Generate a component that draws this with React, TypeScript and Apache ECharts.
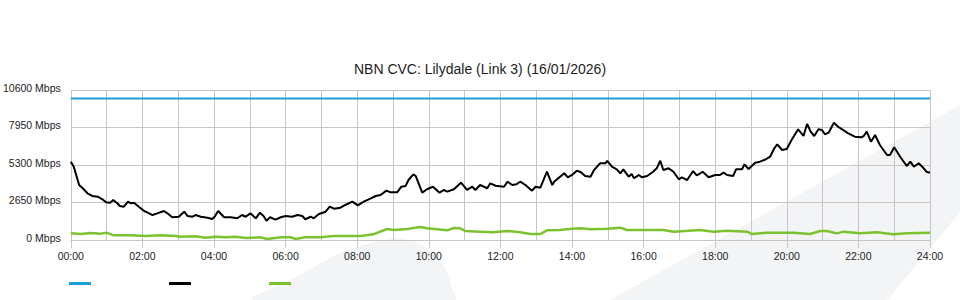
import React, { useEffect, useRef } from "react";
import * as echarts from "echarts";

const titleText = "NBN CVC: Lilydale (Link 3) (16/01/2026)";
const yTicks = [0, 2650, 5300, 7950, 10600];
const xTickHours = [0, 2, 4, 6, 8, 10, 12, 14, 16, 18, 20, 22, 24];

const capacityTimes = ["00:00", "24:00"];
const capacityMbps = [10000, 10000];

const trafficTimes = [
  "00:00","00:05","00:14","00:20","00:28","00:36","00:45","00:53","00:59","01:06","01:11","01:18","01:22","01:29","01:36","01:40","01:46","01:54",
  "02:03","02:08","02:17","02:25","02:36","02:42","02:50","03:01","03:10","03:16","03:24","03:29","03:38","03:49","03:57","04:01","04:07","04:17",
  "04:28","04:39","04:47","04:53","05:01","05:10","05:17","05:23","05:28","05:34","05:43","05:52","06:00","06:11","06:20","06:28","06:33","06:42",
  "06:47","06:56","07:07","07:14","07:21","07:32","07:40","07:52","08:01","08:11","08:22","08:31","08:39","08:49","08:56","09:07","09:14","09:21",
  "09:26","09:34","09:38","09:49","09:57","10:07","10:18","10:25","10:31","10:42","10:54","11:04","11:13","11:18","11:26","11:38","11:43","11:52",
  "12:06","12:12","12:20","12:27","12:33","12:42","12:53","12:59","13:07","13:18","13:27","13:30","13:40","13:47","13:53","14:00","14:08","14:15",
  "14:22","14:31","14:37","14:47","14:56","14:59","15:07","15:15","15:21","15:26","15:35","15:40","15:44","15:52","15:57","16:06","16:16","16:22",
  "16:28","16:33","16:42","16:50","16:59","17:04","17:13","17:23","17:29","17:35","17:39","17:49","18:00","18:08","18:14","18:20","18:30","18:35",
  "18:45","18:49","18:56","19:07","19:15","19:25","19:32","19:39","19:44","19:52","20:00","20:08","20:19","20:28","20:34","20:40","20:46","20:53",
  "20:59","21:04","21:10","21:19","21:26","21:36","21:43","21:54","22:05","22:09","22:14","22:21","22:28","22:36","22:48","22:53","23:00","23:10",
  "23:21","23:27","23:33","23:41","23:47","23:54","24:00"
];
const trafficMbps = [
  5535,5180,3887,3655,3300,3110,3060,2876,2665,2635,2827,2595,2405,2355,2707,2595,2635,2355,
  2050,1955,1765,1885,2050,1885,1605,1645,2000,1695,1645,1765,1645,1575,1485,1645,2050,1605,
  1605,1535,1765,1645,1885,1535,1930,1695,1365,1605,1440,1605,1695,1645,1765,1695,1465,1645,
  1535,1835,2000,2355,2215,2285,2475,2707,2452,2707,2920,3110,3180,3485,3370,3370,3765,3815,
  4240,4645,4525,3345,3585,3765,3345,3535,3415,3585,4050,3535,3765,3535,3885,3655,4005,3835,
  3765,4120,3885,3935,4120,3885,3485,3765,3695,4825,3885,4120,4475,4715,4430,4595,4900,4785,
  4525,4475,4945,5420,5420,5585,5180,4995,4715,4995,4475,4665,4360,4595,4430,4525,4825,5065,
  5605,4945,5065,4825,4290,4430,4240,4875,4560,4715,4825,4430,4595,4595,4755,4595,4525,4995,
  4995,5350,5015,5465,5535,5705,5885,6480,6765,6360,6430,7065,7825,7350,8200,7655,7350,7825,
  7775,7470,7585,8290,8005,7725,7540,7300,7255,7350,7655,6945,7420,6715,6005,6005,6550,5885,
  5230,5535,5180,5420,5180,4825,4755
];

const otherTimes = [
  "00:00","00:17","00:33","00:50","01:00","01:12","01:40","02:06","02:31","02:56","03:04","03:29","03:46","04:03","04:20","04:36","04:53","05:18",
  "05:29","05:52","06:08","06:17","06:33","06:59","07:20","08:06","08:27","08:50","09:01","09:24","09:46","09:57","10:14","10:31","10:42","10:53",
  "11:01","11:26","11:48","12:11","12:33","12:50","13:07","13:18","13:40","13:51","14:14","14:31","14:59","15:21","15:32","15:59","16:33","16:50",
  "17:35","17:57","18:20","18:54","19:01","19:27","20:11","20:39","20:56","21:07","21:24","21:35","22:03","22:31","22:58","23:21","24:00"
];
const otherMbps = [
  470,424,495,450,518,330,330,283,330,283,236,260,165,236,188,236,141,188,
  70,190,190,70,190,190,283,283,400,777,707,777,919,825,754,683,848,825,
  636,590,542,636,542,424,424,683,707,754,825,754,801,872,707,707,707,590,
  707,590,660,590,424,518,518,424,636,636,470,590,470,542,400,470,518
];

function toHours(t: string): number {
  const [h, m] = t.split(":").map(Number);
  return h + m / 60;
}
function pairs(times: string[], vals: number[]) {
  return times.map((t, i) => [toHours(t), vals[i]]);
}
function hh(v: number) {
  return (v < 10 ? "0" : "") + v + ":00";
}

export default function App() {
  const ref = useRef<HTMLDivElement>(null);
  useEffect(() => {
    if (!ref.current) return;
    const chart = echarts.init(ref.current, null, { renderer: "svg" });
    const gridColor = "#c6c6c6";
    const legendCommon = {
      top: 282,
      padding: 0,
      icon: "rect",
      itemWidth: 22,
      itemHeight: 3,
      formatter: () => "",
      textStyle: { fontSize: 1, lineHeight: 1 },
      selectedMode: false,
    };
    chart.setOption({
      animation: false,
      backgroundColor: "#ffffff",
      textStyle: { fontFamily: "Liberation Sans, Arial, sans-serif" },
      title: {
        text: titleText,
        left: "center",
        top: 62,
        padding: 0,
        textStyle: { fontSize: 14, fontWeight: "normal", color: "#222" },
      },
      legend: [
        { ...legendCommon, left: 69, data: ["Capacity"] },
        { ...legendCommon, left: 169, data: ["Traffic"] },
        { ...legendCommon, left: 269, data: ["Other"] },
      ],
      graphic: [
        {
          type: "polygon",
          z: -10,
          silent: true,
          shape: { points: [[610, 300], [960, 105], [960, 212], [887, 300]] },
          style: { fill: "#f3f4f6" },
        },
        {
          type: "polygon",
          z: -10,
          silent: true,
          shape: {
            smooth: 0.3,
            points: [[253, 300], [300, 275], [343, 252], [393, 238], [410, 240], [432, 252], [445, 268], [452, 288], [455, 300]],
          },
          style: { fill: "#f3f4f6" },
        },
      ],
      grid: { left: 70, right: 30, top: 90, bottom: 60, containLabel: false },
      xAxis: {
        type: "value",
        min: 0,
        max: 24,
        interval: 2,
        axisLine: { show: true, lineStyle: { color: gridColor } },
        axisTick: { show: true, length: 8, lineStyle: { color: gridColor } },
        axisLabel: {
          margin: 10,
          fontSize: 10.5,
          color: "#222",
          formatter: (v: number) => (xTickHours.includes(v) ? hh(v) : ""),
        },
        splitLine: { show: true, lineStyle: { color: gridColor, width: 1 } },
        minorTick: { show: false, splitNumber: 2 },
        minorSplitLine: { show: true, lineStyle: { color: gridColor, width: 1 } },
      },
      yAxis: {
        type: "value",
        min: 0,
        max: 10600,
        interval: 2650,
        axisLine: { show: false },
        axisTick: { show: false },
        axisLabel: {
          margin: 10,
          fontSize: 10.5,
          color: "#222",
          verticalAlign: "bottom",
          lineHeight: 5,
          formatter: (v: number) => (yTicks.includes(v) ? v + " Mbps" : ""),
        },
        splitLine: { show: true, lineStyle: { color: gridColor, width: 1 } },
      },
      series: [
        {
          name: "Capacity",
          type: "line",
          data: pairs(capacityTimes, capacityMbps),
          symbol: "none",
          lineStyle: { color: "#1fa0dd", width: 2 },
          itemStyle: { color: "#1fa0dd" },
          z: 3,
        },
        {
          name: "Traffic",
          type: "line",
          data: pairs(trafficTimes, trafficMbps),
          symbol: "none",
          lineStyle: { color: "#000000", width: 2 },
          itemStyle: { color: "#000000" },
          z: 4,
        },
        {
          name: "Other",
          type: "line",
          data: pairs(otherTimes, otherMbps),
          symbol: "none",
          lineStyle: { color: "#7cc22e", width: 2.5 },
          itemStyle: { color: "#7cc22e" },
          z: 3,
        },
      ],
    });
    return () => chart.dispose();
  }, []);
  return (
    <div
      ref={ref}
      style={{ position: "fixed", left: 0, top: 0, width: 960, height: 300 }}
    />
  );
}
